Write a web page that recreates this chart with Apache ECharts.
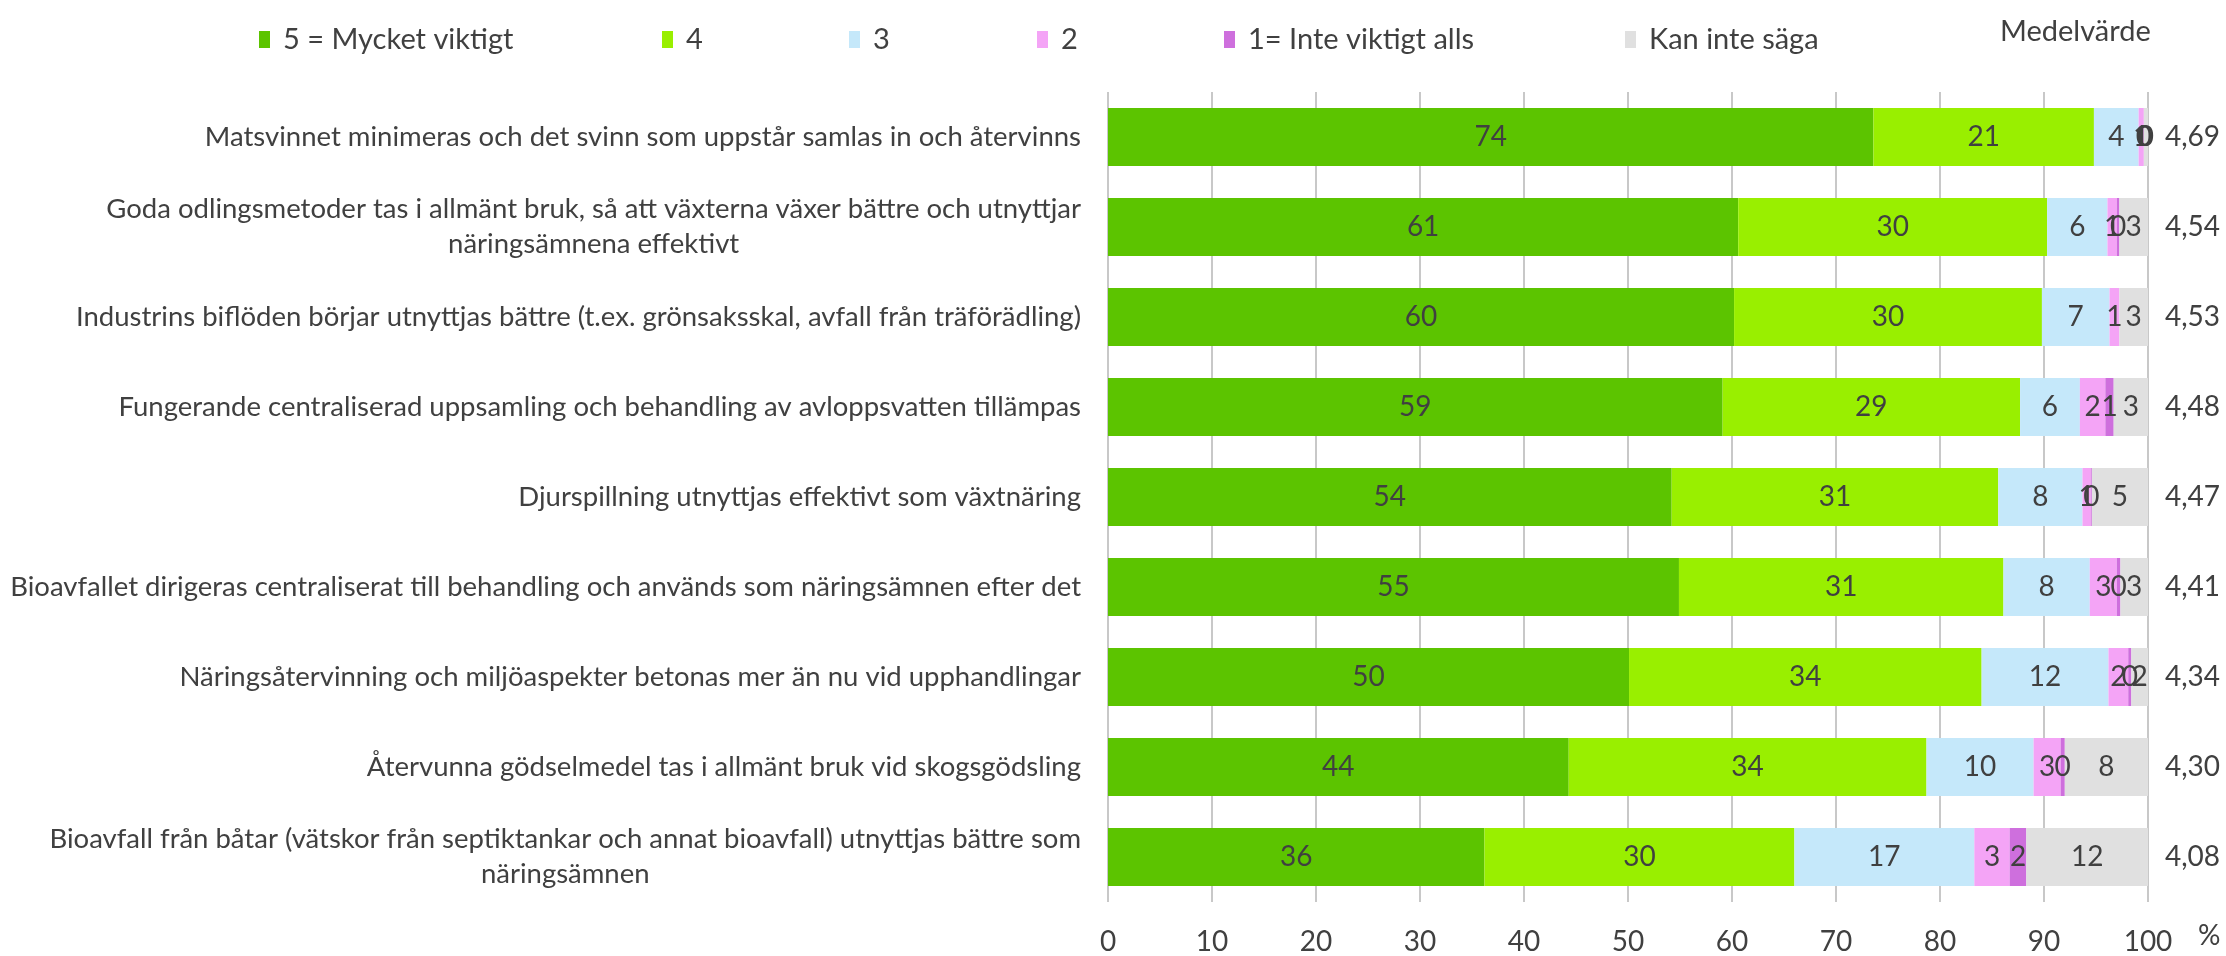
<!DOCTYPE html>
<html>
<head>
<meta charset="utf-8">
<script src="https://cdn.jsdelivr.net/npm/echarts@6/dist/echarts.min.js"></script>
<style>
html,body{margin:0;padding:0;background:#fff;}
#chart{width:2226px;height:956px;}
</style>
</head>
<body>
<div id="chart"></div>
<script>
const categories = [
  'Matsvinnet minimeras och det svinn som uppstår samlas in och återvinns',
  'Goda odlingsmetoder tas i allmänt bruk, så att växterna växer bättre och utnyttjar\nnäringsämnena effektivt',
  'Industrins biflöden börjar utnyttjas bättre (t.ex. grönsaksskal, avfall från träförädling)',
  'Fungerande centraliserad uppsamling och behandling av avloppsvatten tillämpas',
  'Djurspillning utnyttjas effektivt som växtnäring',
  'Bioavfallet dirigeras centraliserat till behandling och används som näringsämnen efter det',
  'Näringsåtervinning och miljöaspekter betonas mer än nu vid upphandlingar',
  'Återvunna gödselmedel tas i allmänt bruk vid skogsgödsling',
  'Bioavfall från båtar (vätskor från septiktankar och annat bioavfall) utnyttjas bättre som\nnäringsämnen'
];
const seriesNames = ['5 = Mycket viktigt', '4', '3', '2', '1= Inte viktigt alls', 'Kan inte säga'];
const s5 = [73.6, 60.6, 60.2, 59.1, 54.2, 54.9, 50.1, 44.3, 36.2];
const s4 = [21.2, 29.7, 29.6, 28.6, 31.4, 31.2, 33.9, 34.4, 29.8];
const s3 = [4.3, 5.8, 6.5, 5.75, 8.1, 8.3, 12.2, 10.3, 17.3];
const s2 = [0.5, 0.9, 0.95, 2.45, 0.8, 2.6, 1.9, 2.6, 3.4];
const s1 = [0, 0.25, null, 0.8, 0.1, 0.35, 0.3, 0.4, 1.6];
const sK = [0.4, 2.75, 2.75, 3.3, 5.4, 2.65, 1.6, 8.0, 11.7];
const means = [4.69, 4.54, 4.53, 4.48, 4.47, 4.41, 4.34, 4.30, 4.08];
const meanTitle = 'Medelvärde';
const axisUnit = '%';

const colors = ['#5CC400', '#99EF00', '#C5E8FA', '#F4A4F6', '#CE6FDD', '#E0E0E0'];
const FONT = 'Lato';
const TXT = '#404040';
const seriesData = [s5, s4, s3, s2, s1, sK];
const legendLeft = [254, 657, 844, 1032, 1219, 1620];

const chart = echarts.init(document.getElementById('chart'));
const legends = seriesNames.map((n, i) => ({
  data: [n],
  left: legendLeft[i],
  top: 20,
  icon: 'rect',
  itemWidth: 11,
  itemHeight: 17,
  itemGap: 0,
  selectedMode: false,
  textStyle: { fontSize: 29, color: TXT, fontFamily: FONT, padding: [0, 0, 0, 8] }
}));

const option = {
  backgroundColor: '#fff',
  animation: false,
  title: {
    text: meanTitle,
    left: 1995,
    top: 12,
    textStyle: { fontSize: 29, fontWeight: 'normal', color: TXT, fontFamily: FONT }
  },
  legend: legends,
  grid: { left: 1108, right: 78, top: 92, bottom: 54, containLabel: false },
  xAxis: {
    type: 'value',
    min: 0,
    max: 100,
    interval: 10,
    name: axisUnit,
    nameLocation: 'end',
    nameGap: 50,
    nameTextStyle: { fontSize: 28, color: TXT, fontFamily: FONT, verticalAlign: 'top', padding: [20, 0, 0, 0] },
    axisLine: { show: false },
    axisTick: { show: false },
    splitLine: { show: true, lineStyle: { color: '#C8C8C8', width: 2 } },
    axisLabel: { fontSize: 28, color: TXT, fontFamily: FONT, margin: 26 }
  },
  yAxis: [
    {
      type: 'category',
      data: categories,
      inverse: true,
      axisLine: { show: false },
      axisTick: { show: false },
      axisLabel: {
        margin: 27,
        fontSize: 27.5,
        color: TXT,
        fontFamily: FONT,
        lineHeight: 35,
        formatter: v => v.split('\n').map(l => '{c|' + l + '}').join('\n'),
        rich: { c: { align: 'center', fontSize: 27.5, color: TXT, fontFamily: FONT, lineHeight: 35 } }
      }
    },
    {
      type: 'category',
      data: means.map(m => m.toFixed(2).replace('.', ',')),
      inverse: true,
      position: 'right',
      axisLine: { show: false },
      axisTick: { show: false },
      axisLabel: { margin: 17, fontSize: 28, color: TXT, fontFamily: FONT, align: 'left' }
    }
  ],
  series: seriesNames.map((n, i) => ({
    name: n,
    type: 'bar',
    stack: 'total',
    yAxisIndex: 0,
    barWidth: 58,
    itemStyle: { color: colors[i] },
    label: {
      show: true,
      position: 'inside',
      color: TXT,
      fontSize: 28,
      fontFamily: FONT,
      formatter: p => (p.value == null ? '' : String(Math.round(p.value)))
    },
    labelLayout: { hideOverlap: false },
    data: seriesData[i]
  }))
};
chart.setOption(option);
</script>
</body>
</html>
